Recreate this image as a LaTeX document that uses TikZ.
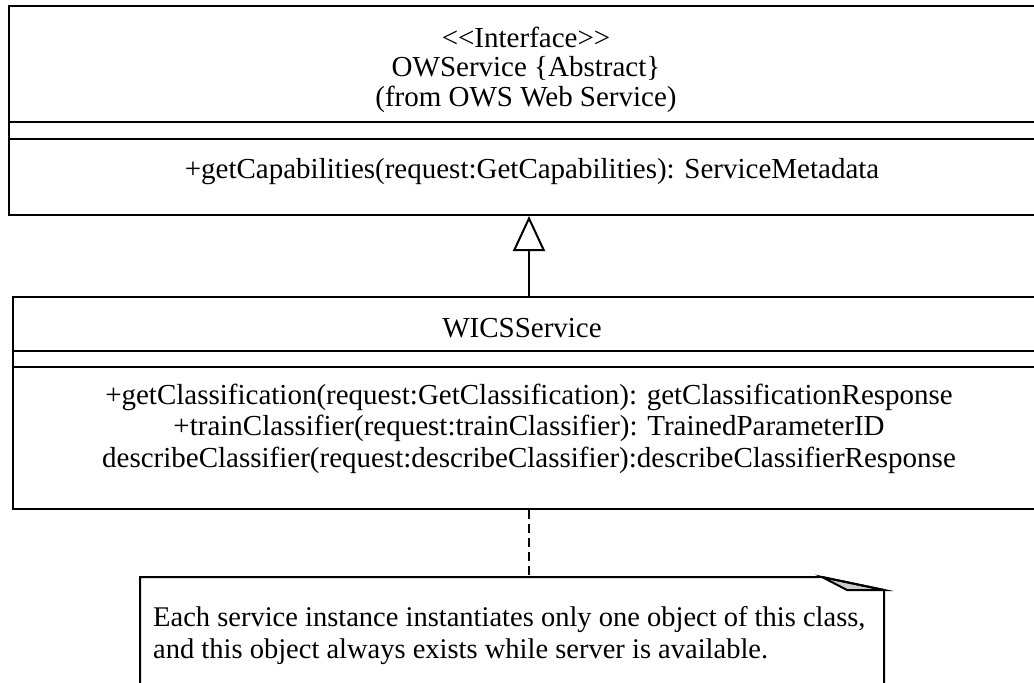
\documentclass[tikz,border=0pt]{standalone}
\usepackage{fontspec}
\setmainfont{Liberation Serif}
\usetikzlibrary{arrows.meta}
\begin{document}
\begin{tikzpicture}[x=1pt,y=-1pt,
  frame/.style={line width=2pt},
  classbox/.style={draw, line width=2pt, anchor=north west, inner sep=0pt},
  label/.style={inner sep=0pt, font=\fontsize{29}{31}\selectfont},
  notetxt/.style={inner sep=0pt, anchor=west, align=left, font=\fontsize{28.5}{32}\selectfont},
  realize/.style={line width=2pt, -{Triangle[open, length=35pt, width=32pt, line width=2pt]}},
  anchorline/.style={line width=2pt, dash pattern=on 9pt off 5pt}]
\useasboundingbox (0,0) rectangle (1034,683);
\clip (0,0) rectangle (1034,683);

% interface class (runs past the right edge)
\node[classbox, minimum width=1042pt, minimum height=209pt] (ows) at (8,5) {};
\draw[frame] (ows.west |- 0,122) -- (ows.east |- 0,122);
\draw[frame] (ows.west |- 0,139) -- (ows.east |- 0,139);
\node[label] (owsster) at (526,37) {<{}<Interface>{}>};
\node[label] (owsname) at (526,68) {OWService \{Abstract\}};
\node[label] (owsfrom) at (526,99) {(from OWS Web Service)};
\node[label] (owsop) at (532,172) {+getCapabilities(request:GetCapabilities): ServiceMetadata};

% implementing class (runs past the right edge)
\node[classbox, minimum width=1034pt, minimum height=212pt] (wics) at (12,296) {};
\draw[frame] (wics.west |- 0,351) -- (wics.east |- 0,351);
\draw[frame] (wics.west |- 0,367) -- (wics.east |- 0,367);
\node[label] (wicsname) at (522,328) {WICSService};
\node[label] (wicsop1) at (529,397) {+getClassification(request:GetClassification): getClassificationResponse};
\node[label] (wicsop2) at (529,428) {+trainClassifier(request:trainClassifier): TrainedParameterID};
\node[label] (wicsop3) at (529,460) {describeClassifier(request:describeClassifier):describeClassifierResponse};

% note with folded corner
\coordinate (notetl) at (140,577);
\coordinate (notefold) at (822,577);
\coordinate (notetr) at (884,590);
\draw[frame, fill=gray!40] (notefold) -- (847,590) -- (notetr) -- cycle;
\draw[frame] (140,700) -- (notetl) -- (notefold) -- (notetr) -- (884,700);
\node[notetxt] (note) at (153,636) {Each service instance instantiates only one object of this class,\\and this object always exists while server is available.};

% connectors
\coordinate (gx) at (529,0);
\draw[realize] (wics.north -| gx) -- (ows.south -| gx);
\draw[anchorline] (wics.south -| gx) -- (notetl -| gx);
\end{tikzpicture}
\end{document}
